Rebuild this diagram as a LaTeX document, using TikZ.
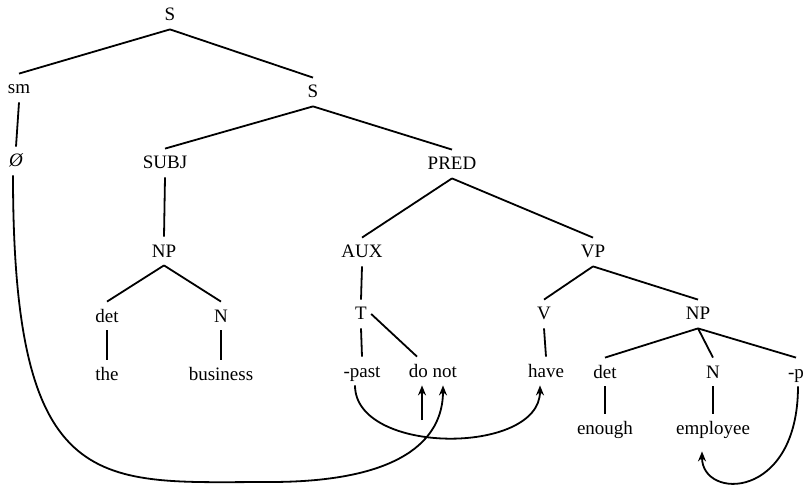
\documentclass[tikz,border=0pt]{standalone}
\usepackage{fontspec}
\setmainfont{Liberation Serif}
\usetikzlibrary{arrows.meta}
\begin{document}
\begin{tikzpicture}[x=0.5pt,y=-0.5pt,
  lbl/.style={anchor=base, inner xsep=2pt, inner ysep=3.5pt,
    text height=6.5pt, text depth=0.5pt, font=\fontsize{9.5}{11}\selectfont},
  branch/.style={line width=0.9pt},
  move/.style={line width=0.9pt, -{Stealth[length=5pt,width=4pt]}}]
\useasboundingbox (0,0) rectangle (803,486);

% tree labels (placed by baseline)
\node[lbl] (S0) at (170,21) {S};
\node[lbl] (sm) at (19,94) {sm};
\node[lbl] (S1) at (313,98) {S};
\node[lbl] (th) at (16,167) {\itshape Ø};
\node[lbl] (subj) at (165,169) {SUBJ};
\node[lbl] (pred) at (452,170) {PRED};
\node[lbl] (np1) at (164,257) {NP};
\node[lbl] (aux) at (362,258) {AUX};
\node[lbl] (vp) at (593,258) {VP};
\node[lbl] (det1) at (107,322) {det};
\node[lbl] (n1) at (221,322) {N};
\node[lbl] (t) at (361,320) {T};
\node[lbl] (v) at (544,320) {V};
\node[lbl] (np2) at (698,320) {NP};
\node[lbl] (the) at (107,380) {the};
\node[lbl] (business) at (221,380) {business};
\node[lbl] (past) at (362,377) {-past};
\node[lbl] (donot) at (433,377) {do not};
\node[lbl] (have) at (546,377) {have};
\node[lbl] (det2) at (605,378) {det};
\node[lbl] (n2) at (713,378) {N};
\node[lbl] (pl) at (796,378) {-p};
\node[lbl] (enough) at (605,434) {enough};
\node[lbl] (employee) at (713,434) {employee};

% branches
\draw[branch] (S0.south) -- (sm.north);
\draw[branch] (S0.south) -- (S1.north);
\draw[branch] (sm.south) -- (th.north);
\draw[branch] (S1.south) -- (subj.north);
\draw[branch] (S1.south) -- (pred.north);
\draw[branch] (subj.south) -- (np1.north);
\draw[branch] (pred.south) -- (aux.north);
\draw[branch] (pred.south) -- (vp.north);
\draw[branch] (np1.south) -- (det1.north);
\draw[branch] (np1.south) -- (n1.north);
\draw[branch] (aux.south) -- (t.north);
\draw[branch] (vp.south) -- (v.north);
\draw[branch] (vp.south) -- (np2.north);
\draw[branch] (det1.south) -- (the.north);
\draw[branch] (n1.south) -- (business.north);
\draw[branch] (t.south) -- (past.north);
\draw[branch] (t.east) -- ([xshift=-8pt]donot.north);
\draw[branch] (v.south) -- (have.north);
\draw[branch] (np2.south) -- (det2.north);
\draw[branch] (np2.south) -- (n2.north);
\draw[branch] (np2.south) -- (pl.north);
\draw[branch] (det2.south) -- (enough.north);
\draw[branch] (n2.south) -- (employee.north);

% movement arrows
\coordinate (lowA) at (270,482);
\coordinate (dostem) at (422,420);
\draw[move] ([xshift=-1.5pt]th.south) .. controls +(0,325) and +(-170,0) .. (lowA)
  .. controls +(130,0) and +(0,55) .. ([xshift=5pt]donot.south);
\draw[move] ([xshift=-3.5pt]past.south) .. controls +(0,70) and +(0,70) .. ([xshift=-3pt]have.south);
\draw[move] (dostem) -- (dostem |- donot.south);
\draw[move] ([xshift=1pt]pl.south) .. controls +(0,114) and +(0,49) .. ([shift={(-11,9)}]employee.south);
\end{tikzpicture}
\end{document}
